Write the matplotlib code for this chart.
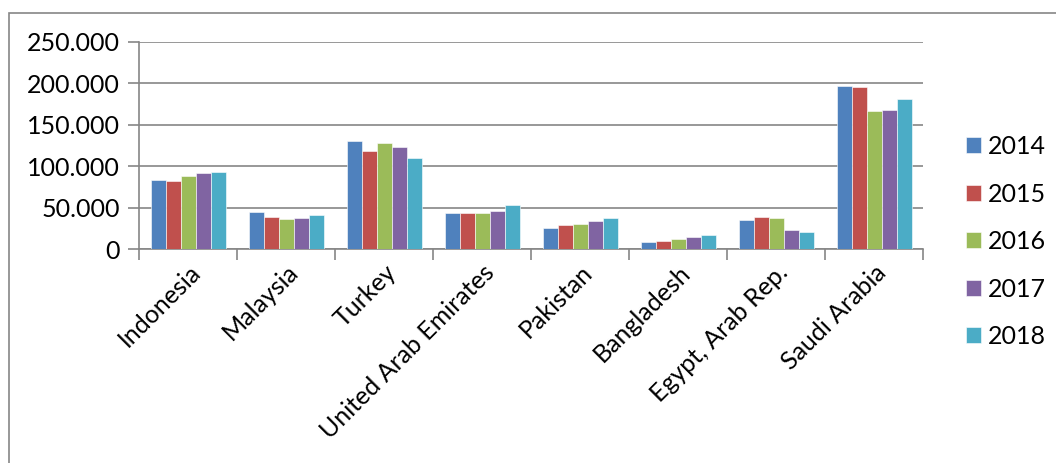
import numpy as np
import matplotlib.pyplot as plt
from matplotlib.patches import Rectangle
from matplotlib.ticker import FuncFormatter

countries = ["Indonesia", "Malaysia", "Turkey", "United Arab Emirates",
             "Pakistan", "Bangladesh", "Egypt, Arab Rep.", "Saudi Arabia"]
years = ["2014", "2015", "2016", "2017", "2018"]

# values in thousands
v2014 = [83.6, 45.0, 131.0, 43.4, 25.7, 8.8, 35.7, 196.5]
v2015 = [82.7, 39.0, 118.5, 43.8, 29.3, 10.0, 38.6, 195.7]
v2016 = [88.4, 36.9, 127.8, 44.2, 30.5, 12.8, 37.4, 166.4]
v2017 = [91.6, 37.7, 123.4, 46.6, 34.1, 14.8, 23.3, 168.0]
v2018 = [93.2, 41.4, 110.1, 53.8, 37.7, 16.9, 20.5, 180.9]
series = [v2014, v2015, v2016, v2017, v2018]

colors = ["#4F81BD", "#C0504D", "#9BBB59", "#8064A2", "#4BACC6"]
grid_color = "#868686"

plt.rcParams["font.family"] = ["Lato", "DejaVu Sans"]
plt.rcParams["font.size"] = 18

fig = plt.figure(figsize=(10.56, 4.63), dpi=100)
ax = fig.add_axes([0.1321, 0.4616, 0.8744 - 0.1321, 0.9093 - 0.4616])

# chart area border (runs off the right and bottom edge)
fig.patches.append(Rectangle((9 / 1056, -0.1), 1.2, 1 - 13 / 463 + 0.1,
                             transform=fig.transFigure, fill=False,
                             edgecolor=grid_color, linewidth=1.2))

x = np.arange(len(countries))
group = 0.77
w = group / len(series)
for i, (vals, c, y) in enumerate(zip(series, colors, years)):
    ax.bar(x - group / 2 + w * (i + 0.5), vals, width=w, color=c,
           edgecolor="white", linewidth=0.4, label=y, zorder=3)

ax.set_xlim(-0.5, len(countries) - 0.5)
ax.set_ylim(0, 250)
ax.set_yticks(np.arange(0, 251, 50))
# thousands shown with a dot separator
ax.yaxis.set_major_formatter(FuncFormatter(
    lambda v, p: "0" if v == 0 else "{:.3f}".format(v)))
ax.yaxis.grid(True, color=grid_color, linewidth=1.2, zorder=0)

ax.set_xticks(np.arange(-0.5, len(countries), 1))
ax.set_xticklabels([])
ax.set_xticks(x, minor=True)
ax.set_xticklabels(countries, minor=True, rotation=45, ha="right",
                   rotation_mode="anchor")
ax.tick_params(axis="x", which="minor", length=0, pad=8)
ax.tick_params(axis="x", which="major", length=8, width=1.2, color=grid_color)
ax.tick_params(axis="y", length=8, width=1.2, color=grid_color, pad=6)

for s in ["top", "right"]:
    ax.spines[s].set_visible(False)
for s in ["left", "bottom"]:
    ax.spines[s].set_color(grid_color)
    ax.spines[s].set_linewidth(1.2)

ax.legend(loc="upper left", bbox_to_anchor=(0.905, 0.73),
          bbox_transform=fig.transFigure, frameon=False,
          handlelength=0.6, handleheight=0.6, handletextpad=0.3,
          labelspacing=0.98, borderaxespad=0)

fig.savefig("out.png", dpi=100)
